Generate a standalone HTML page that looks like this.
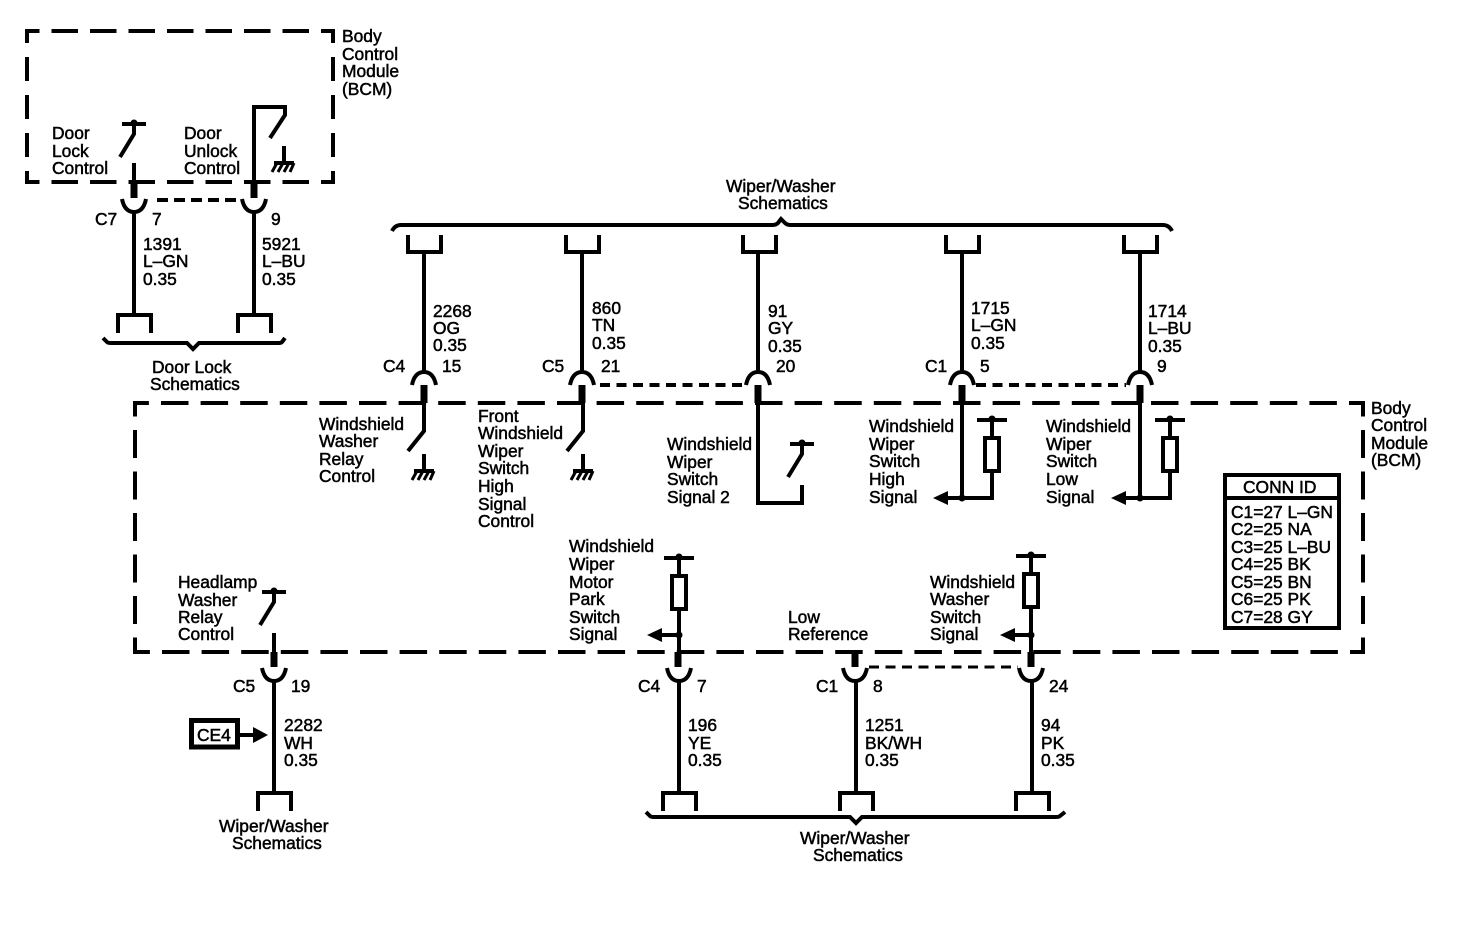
<!DOCTYPE html>
<html><head><meta charset="utf-8"><style>
html,body{margin:0;padding:0;background:#fff}
svg{display:block}
text{font-family:"Liberation Sans",sans-serif;font-size:17.4px;fill:#000;stroke:#000;stroke-width:.5px}
.w{fill:none;stroke:#000;stroke-width:4}
.d{fill:none;stroke:#000;stroke-width:4}
</style></head><body>
<svg width="1470" height="928" viewBox="0 0 1470 928" xmlns="http://www.w3.org/2000/svg">
<defs>
<g id="gnd"><path d="M0 0V17M-10 17H10" class="w"/><path d="M-7 17L-12 26M-1 17L-6 26M5 17L0 26M10 17L6 26" fill="none" stroke="#000" stroke-width="3"/></g>
<g id="sw"><path d="M-12 0H12" class="w"/><circle cx="0" cy="-1" r="3.5"/><path d="M0 0V10L-14 33" class="w"/></g>
<path id="arcU" d="M-12 13C-10 3 -5 0 0 0C5 0 10 3 12 13" class="w"/>
<path id="arcD" d="M-12 0C-10 10 -5 13 0 13C5 13 10 10 12 0" class="w"/>
<path id="fb" d="M-16 18V0H17V18" class="w"/>
<path id="ft" d="M-16 -17V0H17V-17" class="w"/>
<g id="res"><path d="M-15 0H15M0 0V17" class="w"/><circle cx="0" cy="-1" r="3.5"/><rect x="-7" y="18" width="14" height="33" class="w"/></g>
<path id="al" d="M0 0L15 -7V7Z"/>
</defs>

<!-- top BCM box -->
<path d="M25 31H335" class="d" stroke-dasharray="26.5 12" stroke-dashoffset="12"/>
<path d="M25 182H335" class="d" stroke-dasharray="26.5 12" stroke-dashoffset="12"/>
<path d="M27 29V184" class="d" stroke-dasharray="24 14" stroke-dashoffset="10"/>
<path d="M333 29V184" class="d" stroke-dasharray="24 14" stroke-dashoffset="10"/>
<!-- main BCM box -->
<path d="M133 403H1365" class="d" stroke-dasharray="27.5 12.1" stroke-dashoffset="11.6"/>
<path d="M133 652H1365" class="d" stroke-dasharray="27.5 12.1" stroke-dashoffset="10.6"/>
<path d="M135 401V654" class="d" stroke-dasharray="28 13.5" stroke-dashoffset="12.5"/>
<path d="M1363 401V654" class="d" stroke-dasharray="28 13.5" stroke-dashoffset="12.5"/>

<!-- door lock -->
<use href="#sw" x="134" y="124"/>
<path d="M134 163V198" class="w"/><path d="M134 183V198" fill="none" stroke="#000" stroke-width="7"/>
<use href="#arcD" x="134" y="199"/><path d="M134 212V315" class="w"/><use href="#fb" x="134" y="315"/>
<path d="M254 198V107H285V115L270 138" class="w"/><path d="M254 183V198" fill="none" stroke="#000" stroke-width="7"/>
<use href="#gnd" x="284" y="146"/>
<use href="#arcD" x="254" y="199"/><path d="M254 212V315" class="w"/><use href="#fb" x="254" y="315"/>
<path d="M157 200H241" class="w" stroke-dasharray="11 6"/>
<path d="M103 338L107 342Q108 343 111 343H187L193 349L199 343H279Q281 343 282 342L285 338" class="w"/>

<!-- top brace -->
<path d="M392 231Q395 225 401 225H773Q776 225 778 223L781 219L785 223Q787 225 790 225H1163Q1169 225 1172 231" class="w"/>
<use href="#ft" x="424" y="252"/><use href="#ft" x="582" y="252"/><use href="#ft" x="759" y="252"/><use href="#ft" x="962" y="252"/><use href="#ft" x="1140" y="252"/>
<path d="M424 252V373M582 252V373M758 252V373M962 252V373M1140 252V373" class="w"/>
<use href="#arcU" x="424" y="372"/><use href="#arcU" x="582" y="372"/><use href="#arcU" x="758" y="372"/><use href="#arcU" x="962" y="372"/><use href="#arcU" x="1140" y="372"/>
<path d="M424 385V403M582 385V403M758 385V403M962 385V403M1140 385V403" fill="none" stroke="#000" stroke-width="7"/>
<path d="M600 385H745M976 385H1126" class="w" stroke-dasharray="10 6.5"/>

<!-- switches inside -->
<path d="M424 403V431L408 451" class="w"/><use href="#gnd" x="424" y="454"/>
<path d="M583 403V431L567 451" class="w"/><use href="#gnd" x="583" y="454"/>
<path d="M758 403V503H802V485" class="w"/>
<use href="#sw" x="802" y="444"/>
<!-- high/low -->
<path d="M962 403V498M948 498H992V470" class="w"/><circle cx="962" cy="498" r="3.5"/><use href="#al" x="933" y="498"/><use href="#res" x="992" y="420"/>
<path d="M1140 403V498M1126 498H1170V470" class="w"/><circle cx="1140" cy="498" r="3.5"/><use href="#al" x="1111" y="498"/><use href="#res" x="1170" y="420"/>

<!-- conn id -->
<rect x="1225" y="475" width="114" height="153" class="w"/><path d="M1225 498H1339" class="w"/>

<!-- headlamp -->
<use href="#sw" x="274" y="592"/>
<path d="M274 633V667" class="w"/><path d="M274 652V667" fill="none" stroke="#000" stroke-width="7"/>
<use href="#arcD" x="274" y="668"/><path d="M274 680V793" class="w"/><use href="#fb" x="274" y="793"/>
<rect x="191.500" y="720.500" width="46" height="26.500" fill="none" stroke="#000" stroke-width="5"/>
<path d="M240 735H256" class="w"/><path d="M268 735L253 727V743Z"/>

<!-- bottom -->
<use href="#res" x="679" y="558"/><path d="M679 609V667" class="w"/>
<circle cx="679" cy="635" r="3.5"/><path d="M662 635H679" class="w"/><use href="#al" x="647" y="635"/>
<use href="#res" x="1031" y="556"/><path d="M1031 607V667" class="w"/>
<circle cx="1031" cy="635" r="3.500"/><path d="M1015 635H1031" class="w"/><use href="#al" x="1000" y="635"/>
<path d="M678 652V667M855 652V667M1031 652V667" fill="none" stroke="#000" stroke-width="7"/>
<use href="#arcD" x="679" y="668"/><use href="#arcD" x="855" y="668"/><use href="#arcD" x="1031" y="668"/>
<path d="M679 680V793M856 680V793M1032 680V793" class="w"/>
<use href="#fb" x="679" y="793"/><use href="#fb" x="856" y="793"/><use href="#fb" x="1032" y="793"/>
<path d="M869 667H1018" fill="none" stroke="#000" stroke-width="3" stroke-dasharray="10 6.500"/>
<path d="M646 812L650 816Q651 817 654 817H850L856 823L862 817H1056Q1059 817 1060 816L1065 812" class="w"/>

<!-- labels -->
<text x="342" y="42">Body</text><text x="342" y="60">Control</text><text x="342" y="77">Module</text><text x="342" y="95">(BCM)</text>
<text x="52" y="139">Door</text><text x="52" y="157">Lock</text><text x="52" y="174">Control</text>
<text x="184" y="139">Door</text><text x="184" y="157">Unlock</text><text x="184" y="174">Control</text>
<text x="95" y="225">C7</text><text x="152" y="225">7</text><text x="271" y="225">9</text>
<text x="143" y="250">1391</text><text x="143" y="267">L–GN</text><text x="143" y="285">0.35</text>
<text x="262" y="250">5921</text><text x="262" y="267">L–BU</text><text x="262" y="285">0.35</text>
<text x="152" y="373">Door Lock</text><text x="150" y="390">Schematics</text>
<text x="726" y="192">Wiper/Washer</text><text x="738" y="209">Schematics</text>
<text x="433" y="317">2268</text><text x="433" y="334">OG</text><text x="433" y="351">0.35</text>
<text x="592" y="314">860</text><text x="592" y="331">TN</text><text x="592" y="349">0.35</text>
<text x="768" y="317">91</text><text x="768" y="334">GY</text><text x="768" y="352">0.35</text>
<text x="971" y="314">1715</text><text x="971" y="331">L–GN</text><text x="971" y="349">0.35</text>
<text x="1148" y="317">1714</text><text x="1148" y="334">L–BU</text><text x="1148" y="352">0.35</text>
<text x="383" y="372">C4</text><text x="442" y="372">15</text>
<text x="542" y="372">C5</text><text x="601" y="372">21</text><text x="776" y="372">20</text>
<text x="925" y="372">C1</text><text x="980" y="372">5</text><text x="1157" y="372">9</text>
<text x="1371" y="414">Body</text><text x="1371" y="431">Control</text><text x="1371" y="449">Module</text><text x="1371" y="466">(BCM)</text>
<text x="319" y="430">Windshield</text><text x="319" y="447">Washer</text><text x="319" y="465">Relay</text><text x="319" y="482">Control</text>
<text x="478" y="422">Front</text><text x="478" y="439">Windshield</text><text x="478" y="457">Wiper</text><text x="478" y="474">Switch</text><text x="478" y="492">High</text><text x="478" y="510">Signal</text><text x="478" y="527">Control</text>
<text x="667" y="450">Windshield</text><text x="667" y="468">Wiper</text><text x="667" y="485">Switch</text><text x="667" y="503">Signal 2</text>
<text x="869" y="432">Windshield</text><text x="869" y="450">Wiper</text><text x="869" y="467">Switch</text><text x="869" y="485">High</text><text x="869" y="503">Signal</text>
<text x="1046" y="432">Windshield</text><text x="1046" y="450">Wiper</text><text x="1046" y="467">Switch</text><text x="1046" y="485">Low</text><text x="1046" y="503">Signal</text>
<text x="1243" y="493">CONN ID</text>
<text x="1231" y="518">C1=27 L–GN</text><text x="1231" y="535">C2=25 NA</text><text x="1231" y="553">C3=25 L–BU</text><text x="1231" y="570">C4=25 BK</text><text x="1231" y="588">C5=25 BN</text><text x="1231" y="605">C6=25 PK</text><text x="1231" y="623">C7=28 GY</text>
<text x="178" y="588">Headlamp</text><text x="178" y="606">Washer</text><text x="178" y="623">Relay</text><text x="178" y="640">Control</text>
<text x="569" y="552">Windshield</text><text x="569" y="570">Wiper</text><text x="569" y="588">Motor</text><text x="569" y="605">Park</text><text x="569" y="623">Switch</text><text x="569" y="640">Signal</text>
<text x="788" y="623">Low</text><text x="788" y="640">Reference</text>
<text x="930" y="588">Windshield</text><text x="930" y="605">Washer</text><text x="930" y="623">Switch</text><text x="930" y="640">Signal</text>
<text x="233" y="692">C5</text><text x="291" y="692">19</text>
<text x="638" y="692">C4</text><text x="697" y="692">7</text>
<text x="816" y="692">C1</text><text x="873" y="692">8</text><text x="1049" y="692">24</text>
<text x="284" y="731">2282</text><text x="284" y="749">WH</text><text x="284" y="766">0.35</text>
<text x="197" y="741">CE4</text>
<text x="688" y="731">196</text><text x="688" y="749">YE</text><text x="688" y="766">0.35</text>
<text x="865" y="731">1251</text><text x="865" y="749">BK/WH</text><text x="865" y="766">0.35</text>
<text x="1041" y="731">94</text><text x="1041" y="749">PK</text><text x="1041" y="766">0.35</text>
<text x="219" y="832">Wiper/Washer</text><text x="232" y="849">Schematics</text>
<text x="800" y="844">Wiper/Washer</text><text x="813" y="861">Schematics</text>
</svg>
</body></html>
